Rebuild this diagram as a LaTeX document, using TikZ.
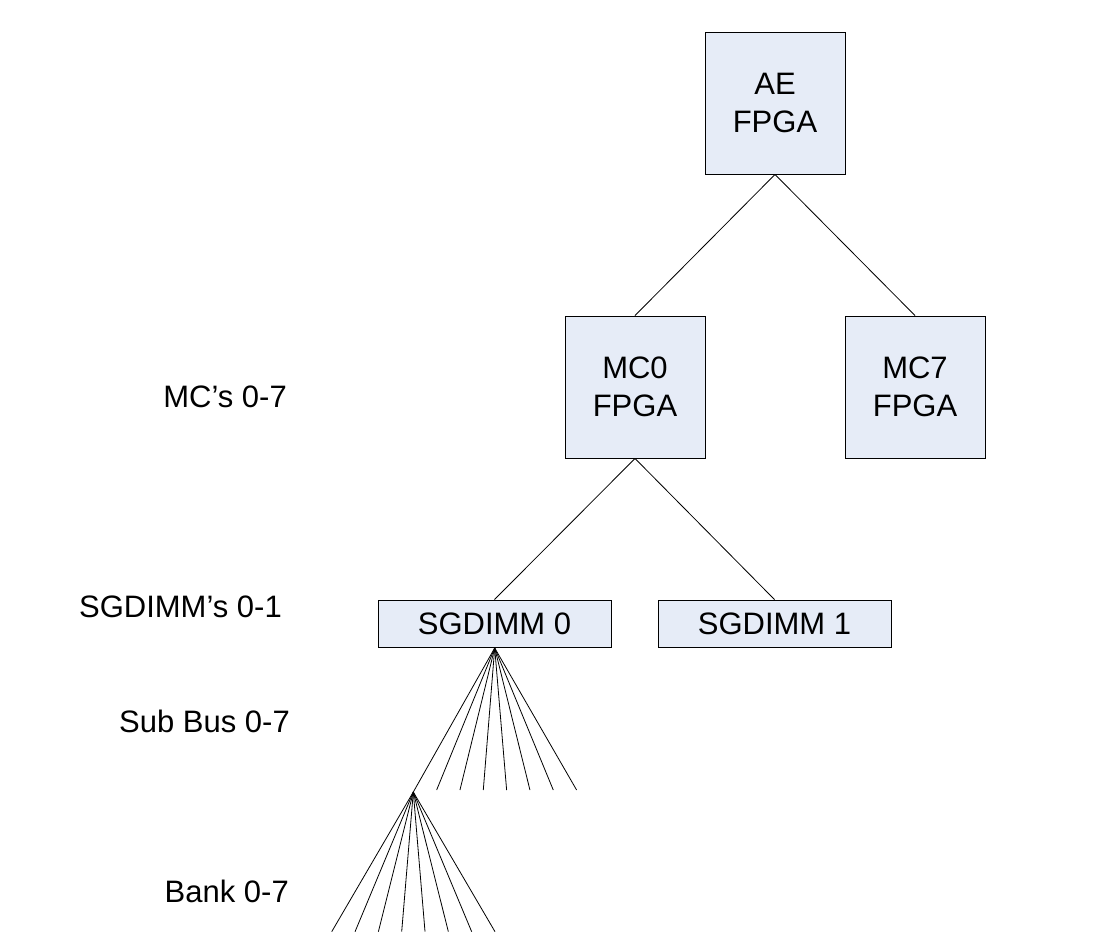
\documentclass[tikz,border=0pt]{standalone}
\usepackage{fontspec}
\setmainfont{Liberation Sans}
\definecolor{boxfill}{RGB}{230,236,247}
\begin{document}
\begin{tikzpicture}[x=1pt,y=-1pt,
  box/.style={draw=black, line width=0.9pt, fill=boxfill, inner sep=0pt, align=center,
    font=\fontsize{31}{38}\selectfont},
  sq/.style={box, minimum width=140pt, minimum height=142pt},
  wide/.style={box, minimum width=233pt, minimum height=47pt},
  lbl/.style={anchor=east, inner sep=0pt, font=\fontsize{31}{38}\selectfont},
  conn/.style={draw=black, line width=0.8pt}]
\useasboundingbox (0,0) rectangle (1119,951);
\node[sq] (ae) at (775,103) {AE\\FPGA};
\node[sq] (mc0) at (635,387) {MC0\\FPGA};
\node[sq] (mc7) at (915,387) {MC7\\FPGA};
\node[wide] (sg0) at (494.5,623.5) {SGDIMM 0};
\node[wide] (sg1) at (774.5,623.5) {SGDIMM 1};

\node[lbl] (l1) at (287,397) {MC’s 0-7};
\node[lbl] (l2) at (282,607) {SGDIMM’s 0-1};
\node[lbl] (l3) at (290,721) {Sub Bus 0-7};
\node[lbl] (l4) at (289,891) {Bank 0-7};

\draw[conn] (ae.south) -- (mc0.north);
\draw[conn] (ae.south) -- (mc7.north);
\draw[conn] (mc0.south) -- (sg0.north);
\draw[conn] (mc0.south) -- (sg1.north);

\coordinate (sb) at (494.7,648);
\coordinate (bk) at (413.3,792);
\draw[conn] (sb) -- (bk);
\foreach \i in {1,...,7} {
  \coordinate (s\i) at ({413.3+23.33*\i},790);
  \draw[conn] (sb) -- (s\i);
}
\foreach \i in {0,...,7} {
  \coordinate (b\i) at ({331.7+23.33*\i},931.7);
  \draw[conn] (bk) -- (b\i);
}
\end{tikzpicture}
\end{document}
